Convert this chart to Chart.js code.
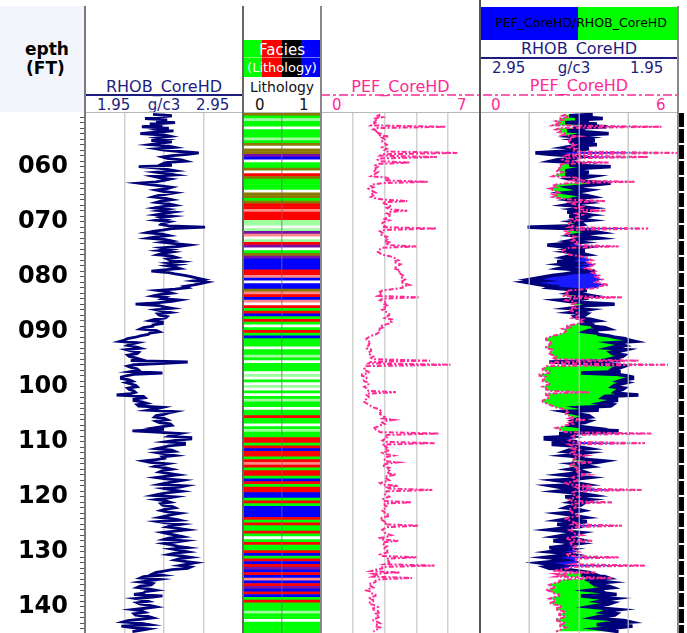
<!DOCTYPE html>
<html>
<head>
<meta charset="utf-8">
<script src="https://cdn.jsdelivr.net/npm/chart.js@4.4.1/dist/chart.umd.min.js"></script>
<style>
  body { margin: 0; width: 687px; height: 633px; overflow: hidden; background: #fff; position: relative;
         font-family: "DejaVu Sans", Verdana, sans-serif; }
  .a { position: absolute; }
  .t { position: absolute; white-space: nowrap; line-height: 1; }
  canvas { position: absolute; }
</style>
</head>
<body>

<!-- depth column header -->
<div class="a" style="left:0;top:6px;width:84px;height:106px;background:#f2f6fc"></div>
<div class="t" style="left:25px;top:41px;font-size:17px;font-weight:bold">epth</div>
<div class="t" style="left:26px;top:60px;font-size:17px;font-weight:bold">(FT)</div>

<!-- track 1 header -->
<div class="t" style="left:85px;width:158px;top:79px;text-align:center;font-size:16px;color:#1c1c80">RHOB_CoreHD</div>
<div class="a" style="left:84px;width:159px;top:94px;height:2px;background:#1c1c80"></div>
<div class="t" style="left:97px;top:98px;font-size:15px;color:#1c1c80">1.95</div>
<div class="t" style="left:85px;width:158px;top:98px;text-align:center;font-size:15px;color:#1c1c80">g/c3</div>
<div class="t" style="left:196px;top:98px;font-size:15px;color:#1c1c80">2.95</div>

<!-- track 2 header -->
<div class="a" style="left:243px;top:40px;width:19px;height:37px;background:#00ff00"></div>
<div class="a" style="left:262px;top:40px;width:20px;height:37px;background:#ff0000"></div>
<div class="a" style="left:282px;top:40px;width:19px;height:37px;background:#000"></div>
<div class="a" style="left:301px;top:40px;width:20px;height:37px;background:#0000ff"></div>
<div class="a" style="left:243px;top:57px;width:78px;height:1px;background:rgba(255,255,255,0.45)"></div>
<div class="t" style="left:243px;width:78px;top:43px;text-align:center;font-size:15px;color:#fff">Facies</div>
<div class="t" style="left:243px;width:78px;top:61px;text-align:center;font-size:13px;color:#fff">(Lithology)</div>
<div class="t" style="left:243px;width:78px;top:80px;text-align:center;font-size:14px;color:#111">Lithology</div>
<div class="t" style="left:255px;top:98px;font-size:15px;color:#111">0</div>
<div class="t" style="left:299px;top:98px;font-size:15px;color:#111">1</div>

<!-- track 3 header -->
<div class="t" style="left:321px;width:159px;top:79px;text-align:center;font-size:16px;color:#ff2a95">PEF_CoreHD</div>
<div class="t" style="left:332px;top:98px;font-size:15px;color:#ff2a95">0</div>
<div class="t" style="left:457px;top:98px;font-size:15px;color:#ff2a95">7</div>

<!-- track 4 header -->
<div class="a" style="left:480px;top:7px;width:98px;height:33px;background:#0000ff"></div>
<div class="a" style="left:578px;top:7px;width:100px;height:33px;background:#00ff00"></div>
<div class="t" style="left:482px;width:198px;top:17px;text-align:center;font-size:12.5px;color:#000">PEF_CoreHD/RHOB_CoreHD</div>
<div class="t" style="left:480px;width:198px;top:41px;text-align:center;font-size:16px;color:#1c1c80">RHOB_CoreHD</div>
<div class="a" style="left:480px;width:198px;top:57px;height:2px;background:#1c1c80"></div>
<div class="t" style="left:492px;top:61px;font-size:15px;color:#1c1c80">2.95</div>
<div class="t" style="left:480px;width:188px;top:61px;text-align:center;font-size:15px;color:#1c1c80">g/c3</div>
<div class="t" style="left:630px;top:61px;font-size:15px;color:#1c1c80">1.95</div>
<div class="t" style="left:480px;width:198px;top:78px;text-align:center;font-size:16px;color:#ff2a95">PEF_CoreHD</div>
<div class="t" style="left:491px;top:98px;font-size:15px;color:#ff2a95">0</div>
<div class="t" style="left:656px;top:98px;font-size:15px;color:#ff2a95">6</div>

<svg class="a" style="left:0;top:0" width="687" height="120">
  <line x1="321" y1="95" x2="678" y2="95" stroke="#ff2a95" stroke-width="1.5" stroke-dasharray="9,3,3,3"/>
</svg>

<!-- tracks -->
<canvas id="cRhob" width="243" height="520" style="left:0;top:113px"></canvas>
<canvas id="cLitho" width="78" height="520" style="left:243px;top:113px"></canvas>
<canvas id="cPef" width="159" height="520" style="left:321px;top:113px"></canvas>
<canvas id="cCombo" width="520" height="198" style="left:678px;top:113px;transform-origin:0 0;transform:rotate(90deg)"></canvas>

<!-- frame lines -->
<div class="a" style="left:85px;top:112px;width:593px;height:1px;background:#b8b8b8"></div>
<div class="a" style="left:84px;top:6px;width:2px;height:627px;background:#7a7a7a"></div>
<div class="a" style="left:242px;top:6px;width:2px;height:627px;background:#666"></div>
<div class="a" style="left:320px;top:6px;width:2px;height:627px;background:#888"></div>
<div class="a" style="left:479px;top:0;width:2px;height:633px;background:#555"></div>
<div class="a" style="left:677px;top:6px;width:2px;height:627px;background:#888"></div>
<div class="a" style="left:679px;top:113px;width:5px;height:520px;background:repeating-linear-gradient(to bottom,#000 0,#000 14px,#fff 14px,#fff 16px)"></div>

<script>
// log sample depths (ft), 0.25 ft steps, one row = 5 ft
const depth = [
  1050.5,1050.75,1051,1051.25,1051.5,1051.75,1052,1052.25,1052.5,1052.75,1053,1053.25,1053.5,1053.75,1054,1054.25,1054.5,1054.75,1055,1055.25,
  1055.5,1055.75,1056,1056.25,1056.5,1056.75,1057,1057.25,1057.5,1057.75,1058,1058.25,1058.5,1058.75,1059,1059.25,1059.5,1059.75,1060,1060.25,
  1060.5,1060.75,1061,1061.25,1061.5,1061.75,1062,1062.25,1062.5,1062.75,1063,1063.25,1063.5,1063.75,1064,1064.25,1064.5,1064.75,1065,1065.25,
  1065.5,1065.75,1066,1066.25,1066.5,1066.75,1067,1067.25,1067.5,1067.75,1068,1068.25,1068.5,1068.75,1069,1069.25,1069.5,1069.75,1070,1070.25,
  1070.5,1070.75,1071,1071.25,1071.5,1071.75,1072,1072.25,1072.5,1072.75,1073,1073.25,1073.5,1073.75,1074,1074.25,1074.5,1074.75,1075,1075.25,
  1075.5,1075.75,1076,1076.25,1076.5,1076.75,1077,1077.25,1077.5,1077.75,1078,1078.25,1078.5,1078.75,1079,1079.25,1079.5,1079.75,1080,1080.25,
  1080.5,1080.75,1081,1081.25,1081.5,1081.75,1082,1082.25,1082.5,1082.75,1083,1083.25,1083.5,1083.75,1084,1084.25,1084.5,1084.75,1085,1085.25,
  1085.5,1085.75,1086,1086.25,1086.5,1086.75,1087,1087.25,1087.5,1087.75,1088,1088.25,1088.5,1088.75,1089,1089.25,1089.5,1089.75,1090,1090.25,
  1090.5,1090.75,1091,1091.25,1091.5,1091.75,1092,1092.25,1092.5,1092.75,1093,1093.25,1093.5,1093.75,1094,1094.25,1094.5,1094.75,1095,1095.25,
  1095.5,1095.75,1096,1096.25,1096.5,1096.75,1097,1097.25,1097.5,1097.75,1098,1098.25,1098.5,1098.75,1099,1099.25,1099.5,1099.75,1100,1100.25,
  1100.5,1100.75,1101,1101.25,1101.5,1101.75,1102,1102.25,1102.5,1102.75,1103,1103.25,1103.5,1103.75,1104,1104.25,1104.5,1104.75,1105,1105.25,
  1105.5,1105.75,1106,1106.25,1106.5,1106.75,1107,1107.25,1107.5,1107.75,1108,1108.25,1108.5,1108.75,1109,1109.25,1109.5,1109.75,1110,1110.25,
  1110.5,1110.75,1111,1111.25,1111.5,1111.75,1112,1112.25,1112.5,1112.75,1113,1113.25,1113.5,1113.75,1114,1114.25,1114.5,1114.75,1115,1115.25,
  1115.5,1115.75,1116,1116.25,1116.5,1116.75,1117,1117.25,1117.5,1117.75,1118,1118.25,1118.5,1118.75,1119,1119.25,1119.5,1119.75,1120,1120.25,
  1120.5,1120.75,1121,1121.25,1121.5,1121.75,1122,1122.25,1122.5,1122.75,1123,1123.25,1123.5,1123.75,1124,1124.25,1124.5,1124.75,1125,1125.25,
  1125.5,1125.75,1126,1126.25,1126.5,1126.75,1127,1127.25,1127.5,1127.75,1128,1128.25,1128.5,1128.75,1129,1129.25,1129.5,1129.75,1130,1130.25,
  1130.5,1130.75,1131,1131.25,1131.5,1131.75,1132,1132.25,1132.5,1132.75,1133,1133.25,1133.5,1133.75,1134,1134.25,1134.5,1134.75,1135,1135.25,
  1135.5,1135.75,1136,1136.25,1136.5,1136.75,1137,1137.25,1137.5,1137.75,1138,1138.25,1138.5,1138.75,1139,1139.25,1139.5,1139.75,1140,1140.25,
  1140.5,1140.75,1141,1141.25,1141.5,1141.75,1142,1142.25,1142.5,1142.75,1143,1143.25,1143.5,1143.75,1144,1144.25,1144.5
];

// bulk density, g/c3
const rhob = [
  2.38,2.50,2.42,2.33,2.47,2.40,2.52,2.36,2.44,2.31,2.48,2.42,2.51,2.39,2.30,2.45,2.49,2.41,2.46,2.37,
  2.50,2.42,2.36,2.48,2.52,2.40,2.45,2.55,2.67,2.60,2.50,2.44,2.47,2.56,2.59,2.46,2.44,2.50,2.29,2.41,
  2.47,2.52,2.40,2.46,2.52,2.38,2.42,2.49,2.45,2.40,2.29,2.36,2.43,2.50,2.47,2.40,2.44,2.52,2.47,2.41,
  2.38,2.46,2.50,2.43,2.40,2.48,2.52,2.44,2.39,2.47,2.42,2.51,2.45,2.40,2.50,2.43,2.46,2.40,2.48,2.44,
  2.43,2.48,2.71,2.50,2.45,2.38,2.34,2.44,2.48,2.40,2.35,2.46,2.50,2.44,2.52,2.61,2.55,2.44,2.49,2.42,
  2.50,2.44,2.41,2.50,2.53,2.47,2.49,2.56,2.48,2.54,2.47,2.52,2.55,2.45,2.37,2.48,2.52,2.58,2.62,2.66,
  2.70,2.64,2.72,2.68,2.64,2.58,2.60,2.52,2.41,2.47,2.50,2.42,2.38,2.46,2.44,2.55,2.50,2.40,2.27,2.42,
  2.45,2.50,2.40,2.44,2.49,2.41,2.42,2.47,2.46,2.39,2.36,2.44,2.44,2.38,2.38,2.32,2.30,2.40,2.42,2.36,
  2.35,2.30,2.27,2.22,2.20,2.17,2.28,2.24,2.22,2.27,2.30,2.21,2.24,2.29,2.28,2.22,2.23,2.27,2.30,2.24,
  2.60,2.45,2.26,2.22,2.24,2.28,2.29,2.24,2.44,2.26,2.21,2.18,2.18,2.23,2.25,2.21,2.24,2.27,2.28,2.22,
  2.23,2.26,2.27,2.24,2.15,2.32,2.33,2.26,2.26,2.31,2.34,2.28,2.29,2.44,2.40,2.35,2.52,2.48,2.45,2.40,
  2.39,2.45,2.47,2.40,2.42,2.49,2.50,2.44,2.38,2.45,2.25,2.40,2.55,2.50,2.48,2.62,2.62,2.52,2.46,2.58,
  2.58,2.48,2.44,2.40,2.50,2.52,2.41,2.46,2.52,2.44,2.45,2.40,2.32,2.36,2.47,2.42,2.39,2.46,2.50,2.44,
  2.42,2.48,2.54,2.47,2.40,2.46,2.57,2.52,2.46,2.42,2.59,2.55,2.45,2.50,2.56,2.48,2.42,2.38,2.52,2.47,
  2.40,2.46,2.49,2.43,2.44,2.50,2.52,2.46,2.43,2.47,2.55,2.50,2.46,2.42,2.51,2.55,2.41,2.46,2.56,2.50,
  2.47,2.54,2.60,2.52,2.44,2.48,2.53,2.57,2.48,2.45,2.58,2.52,2.45,2.50,2.54,2.60,2.50,2.55,2.60,2.52,
  2.48,2.56,2.62,2.55,2.52,2.58,2.65,2.60,2.55,2.62,2.60,2.50,2.45,2.40,2.38,2.44,2.32,2.30,2.42,2.36,
  2.30,2.38,2.37,2.30,2.28,2.35,2.40,2.33,2.32,2.26,2.44,2.38,2.27,2.32,2.35,2.28,2.30,2.36,2.40,2.33,
  2.25,2.31,2.33,2.26,2.27,2.35,2.38,2.30,2.22,2.19,2.31,2.36,2.18,2.25,2.35,2.30,2.25
];

// photoelectric factor
const pef = [
  2.6,2.5,2.7,2.4,2.5,2.3,2.4,2.3,2.2,5.5,2.4,2.3,2.5,2.4,2.6,2.5,3.0,2.7,2.8,2.7,
  2.7,2.8,2.9,2.8,2.7,2.9,2.8,2.9,6.0,2.7,2.6,5.1,2.6,2.5,2.6,3.9,2.5,2.4,2.5,2.4,
  2.4,2.3,2.5,2.4,2.3,2.2,2.9,3.0,2.8,4.7,2.7,2.3,2.2,2.3,2.1,2.2,2.3,2.4,2.2,2.3,
  2.2,2.4,2.8,3.8,2.7,2.8,3.0,3.1,2.9,3.0,3.8,3.0,2.9,3.1,3.0,2.9,2.8,3.0,2.8,2.7,
  2.7,2.8,2.7,5.1,2.8,2.6,2.7,2.6,2.7,2.9,2.8,2.9,2.8,3.0,2.9,3.0,4.2,2.7,2.6,2.5,
  2.5,2.6,2.7,3.0,3.2,3.3,3.4,3.2,3.3,3.5,3.4,3.3,3.2,3.4,3.5,3.4,3.5,3.6,3.5,3.6,
  3.7,3.6,3.5,3.7,3.9,3.6,3.6,3.2,2.7,2.6,2.7,2.6,2.5,4.3,2.7,2.6,2.8,2.9,2.8,2.9,
  2.8,2.9,2.7,2.8,2.9,3.0,3.0,2.9,2.8,3.1,3.0,3.1,3.0,2.8,2.6,2.7,2.5,2.6,2.6,2.5,
  2.4,2.2,2.1,2.0,2.0,2.1,2.2,2.1,2.1,2.0,2.0,2.2,2.2,2.1,2.1,2.2,2.3,2.2,2.3,4.8,
  2.2,2.1,5.7,2.0,2.0,1.9,1.9,2.1,2.1,1.8,1.8,2.0,2.0,1.9,1.9,2.1,2.1,2.0,1.9,2.0,
  2.0,2.1,3.3,2.0,2.0,2.1,2.1,2.0,1.9,1.9,2.0,2.1,2.2,2.3,2.5,2.6,2.7,2.6,2.6,2.7,
  2.8,2.7,3.2,2.8,2.7,2.8,2.6,2.5,2.3,2.4,2.5,2.6,5.2,2.9,2.8,2.9,2.8,2.7,2.8,5.0,
  2.7,2.8,2.9,2.8,3.0,2.9,2.7,2.8,3.2,2.9,2.9,2.8,2.8,3.4,2.9,2.7,2.8,3.0,2.9,3.0,
  2.9,3.0,3.3,2.9,2.8,2.9,3.0,2.8,2.6,2.7,3.4,2.9,3.0,4.9,2.9,2.8,2.8,2.9,3.0,2.8,
  2.7,2.8,4.0,2.8,2.8,2.9,2.9,2.7,2.7,2.8,2.8,3.0,3.0,2.7,2.6,2.7,2.8,2.9,2.8,4.3,
  2.9,2.8,2.7,2.8,2.8,2.9,3.1,2.9,2.6,2.7,3.4,2.8,2.7,2.8,2.9,2.8,2.8,2.9,3.0,2.8,
  2.6,2.7,4.2,2.9,2.9,3.0,3.0,2.8,5.0,2.7,2.7,2.4,2.2,3.5,2.3,2.5,2.3,4.0,2.6,2.4,
  2.4,2.2,2.1,2.2,2.3,2.1,2.0,2.2,2.2,2.4,2.4,2.2,2.1,2.3,2.3,2.1,2.2,2.4,2.5,2.3,
  2.3,2.5,2.6,2.4,2.4,2.6,2.5,2.3,2.3,2.5,2.6,2.4,2.4,2.6,2.5,2.4,2.3
];

// lithology band centres (ft), 0.5 ft bands
const lithoDepth = [
  1050.5,1051,1051.5,1052,1052.5,1053,1053.5,1054,1054.5,1055,
  1055.5,1056,1056.5,1057,1057.5,1058,1058.5,1059,1059.5,1060,
  1060.5,1061,1061.5,1062,1062.5,1063,1063.5,1064,1064.5,1065,
  1065.5,1066,1066.5,1067,1067.5,1068,1068.5,1069,1069.5,1070,
  1070.5,1071,1071.5,1072,1072.5,1073,1073.5,1074,1074.5,1075,
  1075.5,1076,1076.5,1077,1077.5,1078,1078.5,1079,1079.5,1080,
  1080.5,1081,1081.5,1082,1082.5,1083,1083.5,1084,1084.5,1085,
  1085.5,1086,1086.5,1087,1087.5,1088,1088.5,1089,1089.5,1090,
  1090.5,1091,1091.5,1092,1092.5,1093,1093.5,1094,1094.5,1095,
  1095.5,1096,1096.5,1097,1097.5,1098,1098.5,1099,1099.5,1100,
  1100.5,1101,1101.5,1102,1102.5,1103,1103.5,1104,1104.5,1105,
  1105.5,1106,1106.5,1107,1107.5,1108,1108.5,1109,1109.5,1110,
  1110.5,1111,1111.5,1112,1112.5,1113,1113.5,1114,1114.5,1115,
  1115.5,1116,1116.5,1117,1117.5,1118,1118.5,1119,1119.5,1120,
  1120.5,1121,1121.5,1122,1122.5,1123,1123.5,1124,1124.5,1125,
  1125.5,1126,1126.5,1127,1127.5,1128,1128.5,1129,1129.5,1130,
  1130.5,1131,1131.5,1132,1132.5,1133,1133.5,1134,1134.5,1135,
  1135.5,1136,1136.5,1137,1137.5,1138,1138.5,1139,1139.5,1140,
  1140.5,1141,1141.5,1142,1142.5,1143,1143.5,1144,1144.5
];

// facies code per band: 0 white, 1 green, 2 red, 3 blue, 4 pale green, 5 pink, 6 purple, 7 olive
const facies = [
  7,1,4,1,1,0,1,1,1,4,1,
  7,0,7,7,6,3,0,1,1,7,
  0,2,7,1,1,1,1,0,7,7,
  1,7,2,2,5,2,2,2,4,4,
  0,4,6,5,0,4,2,6,0,1,
  7,6,3,3,3,3,2,2,5,3,
  0,3,3,7,5,2,3,5,0,2,
  1,2,3,1,2,1,0,1,2,1,3,1,
  1,1,0,1,1,4,1,0,1,1,1,
  0,4,0,1,0,4,0,1,0,1,4,
  1,1,0,1,1,2,1,1,0,1,4,1,1,2,
  2,1,2,3,2,2,1,2,5,2,1,
  2,2,1,3,2,1,2,2,3,3,1,2,1,3,
  3,3,3,2,
  1,2,1,1,2,1,0,1,2,1,1,2,3,1,2,
  3,2,6,3,2,3,5,3,2,6,3,2,3,1,2,
  1,1,1,4,1,1,0,1,1,1,1
];
const faciesColors = ['#ffffff','#00ff00','#ff0000','#0000ff','#9dff9d','#ff8a8a','#7a10a8','#8a7800'];

const depthMin = 1050.25, depthMax = 1144.75;
const navy = '#00007a';
const pink = '#ff2a95';

Chart.defaults.animation = false;
Chart.defaults.font.family = '"DejaVu Sans", Verdana, sans-serif';
Chart.defaults.plugins.legend.display = false;
Chart.defaults.plugins.tooltip.enabled = false;

function gridColor(lo, hi, col) {
  return c => (Math.abs(c.tick.value - lo) < 1e-6 || Math.abs(c.tick.value - hi) < 1e-6) ? 'rgba(0,0,0,0)' : col;
}

// track 1: RHOB with depth axis
new Chart(document.getElementById('cRhob'), {
  type: 'line',
  data: {
    datasets: [{
      data: depth.map((d, i) => ({ x: rhob[i], y: d })),
      borderColor: navy, borderWidth: 2.8, pointRadius: 0, tension: 0
    }]
  },
  options: {
    responsive: false,
    indexAxis: 'y',
    layout: { padding: 0 },
    scales: {
      x: {
        type: 'linear', min: 1.95, max: 2.95,
        ticks: { display: false, stepSize: 0.25 },
        border: { display: false },
        grid: { drawTicks: false, color: gridColor(1.95, 2.95, '#d2d2d2'), lineWidth: 1.5 }
      },
      y: {
        type: 'linear', position: 'left', reverse: true, min: depthMin, max: depthMax,
        ticks: {
          stepSize: 1, autoSkip: false, includeBounds: false, padding: 12,
          color: '#000', font: { size: 24, weight: 'bold' },
          callback: v => (v % 10 === 0 ? String(v).slice(1) : '')
        },
        border: { display: false },
        grid: { drawOnChartArea: false, drawTicks: true, tickLength: 5, color: '#555' },
        afterFit: s => { s.width = 85; s.paddingTop = 0; s.paddingBottom = 0; }
      }
    }
  }
});

// track 2: lithology bands
new Chart(document.getElementById('cLitho'), {
  type: 'bar',
  data: {
    labels: lithoDepth,
    datasets: [{
      data: lithoDepth.map(() => 1),
      backgroundColor: facies.map(f => faciesColors[f]),
      barPercentage: 1, categoryPercentage: 1, borderWidth: 0
    }]
  },
  options: {
    responsive: false,
    indexAxis: 'y',
    layout: { padding: 0 },
    scales: {
      y: { display: false },
      x: {
        min: 0, max: 1,
        ticks: { display: false, stepSize: 0.5 },
        border: { display: false },
        grid: { drawTicks: false, z: 1, color: gridColor(0, 1, 'rgba(110,110,110,0.55)'), lineWidth: 1.5 }
      }
    }
  }
});

// track 3: PEF
new Chart(document.getElementById('cPef'), {
  type: 'line',
  data: {
    datasets: [{
      data: depth.map((d, i) => ({ x: pef[i], y: d })),
      borderColor: pink, borderWidth: 2, borderDash: [5, 2, 2, 2], pointRadius: 0, tension: 0
    }]
  },
  options: {
    responsive: false,
    indexAxis: 'y',
    layout: { padding: 0 },
    scales: {
      x: {
        type: 'linear', min: 0, max: 7,
        ticks: { display: false, stepSize: 1.4 },
        border: { display: false },
        grid: { drawTicks: false, color: gridColor(0, 7, '#d2d2d2'), lineWidth: 1.5 }
      },
      y: { type: 'linear', reverse: true, min: depthMin, max: depthMax, display: false }
    }
  }
});

// track 4: RHOB (reversed) and PEF with crossover fill, drawn along depth then turned upright
new Chart(document.getElementById('cCombo'), {
  type: 'line',
  data: {
    datasets: [
      {
        data: depth.map((d, i) => ({ x: d, y: rhob[i] })),
        yAxisID: 'yR', order: 1,
        borderColor: navy, borderWidth: 3.5, pointRadius: 0, tension: 0,
        fill: { target: 1, above: '#00ff00', below: '#1a1aff' }
      },
      {
        data: depth.map((d, i) => ({ x: d, y: pef[i] })),
        yAxisID: 'yP', order: 0,
        borderColor: pink, borderWidth: 2, borderDash: [5, 2, 2, 2], pointRadius: 0, tension: 0, fill: false
      }
    ]
  },
  options: {
    responsive: false,
    layout: { padding: 0 },
    plugins: { filler: { drawTime: 'beforeDatasetsDraw' } },
    scales: {
      x: { type: 'linear', min: depthMin, max: depthMax, display: false },
      yR: { type: 'linear', min: 1.95, max: 2.95, reverse: true, display: false },
      yP: {
        type: 'linear', position: 'left', min: 0, max: 6,
        ticks: { display: false, stepSize: 1.5 },
        border: { display: false },
        grid: { drawTicks: false, z: 1, color: gridColor(0, 6, 'rgba(190,190,190,0.8)'), lineWidth: 1.5 }
      }
    }
  }
});
</script>
</body>
</html>
